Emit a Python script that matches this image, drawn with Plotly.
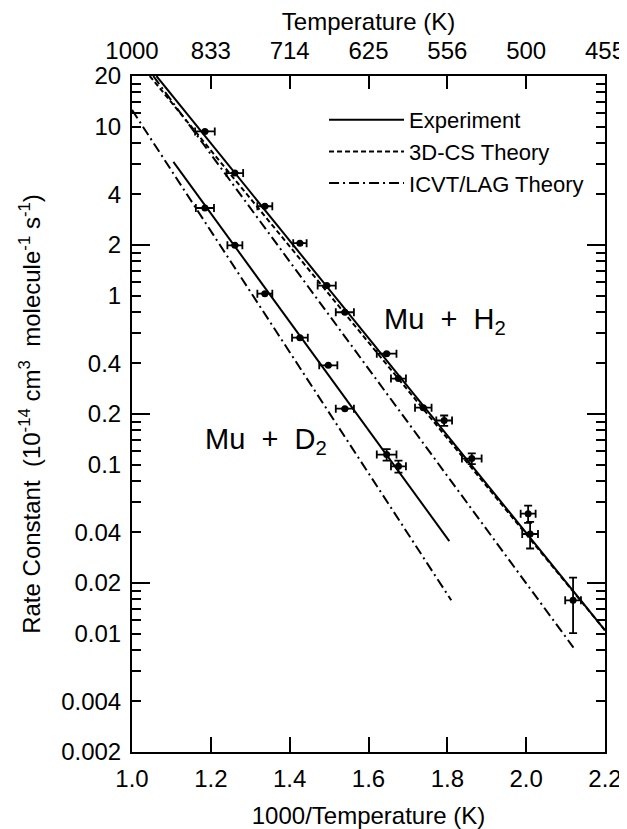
import math
import plotly.graph_objects as go

# ---------------- data ----------------
# Mu + H2 measured rate constants (10^-14 cm3 molecule-1 s-1) vs 1000/T
h2_x = [1.185, 1.261, 1.337, 1.426, 1.494, 1.540, 1.646, 1.676, 1.739, 1.792, 1.862, 2.005, 2.010, 2.119]
h2_k = [9.4, 5.33, 3.39, 2.05, 1.15, 0.80, 0.455, 0.324, 0.218, 0.183, 0.109, 0.0514, 0.039, 0.0158]
h2_xerr = [0.025, 0.021, 0.019, 0.017, 0.023, 0.023, 0.025, 0.019, 0.021, 0.020, 0.025, 0.019, 0.020, 0.020]
h2_kerr = [0, 0, 0, 0, 0, 0, 0, 0, 0, 0.013, 0.008, 0.006, 0.007, 0.0057]

# Mu + D2 measured rate constants
d2_x = [1.185, 1.261, 1.337, 1.426, 1.498, 1.540, 1.646, 1.676]
d2_k = [3.31, 1.99, 1.03, 0.566, 0.388, 0.215, 0.115, 0.098]
d2_xerr = [0.023, 0.019, 0.019, 0.020, 0.023, 0.023, 0.025, 0.019]
d2_kerr = [0, 0, 0, 0, 0, 0, 0.009, 0.008]

# fitted / theoretical lines (end points)
h2_exp_x = [1.062, 2.2]
h2_exp_k = [20.0, 0.0105]
h2_cs_x = [1.045, 2.2]
h2_cs_k = [20.0, 0.0105]
h2_icvt_x = [1.054, 2.12]
h2_icvt_k = [20.0, 0.0083]
d2_exp_x = [1.105, 1.805]
d2_exp_k = [6.2, 0.0354]
d2_icvt_x = [1.0, 1.81]
d2_icvt_k = [12.6, 0.0158]

# axis ticks
x_ticks = [1.0, 1.2, 1.4, 1.6, 1.8, 2.0, 2.2]
x_ticktext = ["1.0", "1.2", "1.4", "1.6", "1.8", "2.0", "2.2"]
t_ticktext = ["1000", "833", "714", "625", "556", "500", "455"]
y_ticks = [20, 10, 4, 2, 1, 0.4, 0.2, 0.1, 0.04, 0.02, 0.01, 0.004, 0.002]
y_ticktext = ["20", "10", "4", "2", "1", "0.4", "0.2", "0.1", "0.04", "0.02", "0.01", "0.004", "0.002"]
y_bases = [0.002, 0.02, 0.2, 2, 20]

# minor (unlabelled) ticks: k * base, k = 2..9
minor_vals = []
for b in y_bases[:-1]:
    for k in range(2, 10):
        v = round(k * b, 6)
        if all(abs(v - t) > 1e-9 for t in y_ticks):
            minor_vals.append(v)

FONT = "Liberation Sans"
BLACK = "black"
FS = 24

fig = go.Figure()

DASHDOT = "10px,4px,2px,4px"
line_specs = [
    (h2_exp_x, h2_exp_k, "solid", "Experiment", True),
    (h2_cs_x, h2_cs_k, "5px,3px", "3D-CS Theory", True),
    (h2_icvt_x, h2_icvt_k, DASHDOT, "ICVT/LAG Theory", True),
    (d2_exp_x, d2_exp_k, "solid", "Experiment", False),
    (d2_icvt_x, d2_icvt_k, DASHDOT, "ICVT/LAG Theory", False),
]
for xs, ks, dash, name, show in line_specs:
    fig.add_trace(go.Scatter(
        x=xs, y=ks, mode="lines", name=name, showlegend=show,
        legendgroup=name, line=dict(color=BLACK, width=2, dash=dash),
        hoverinfo="skip"))

for xs, ks, xe, ke in [(h2_x, h2_k, h2_xerr, h2_kerr), (d2_x, d2_k, d2_xerr, d2_kerr)]:
    fig.add_trace(go.Scatter(
        x=xs, y=ks, mode="markers", showlegend=False,
        marker=dict(color=BLACK, size=7),
        error_x=dict(type="data", array=xe, color=BLACK, thickness=1.8, width=4),
        error_y=dict(type="data", array=ke, color=BLACK, thickness=1.8, width=4),
        hoverinfo="skip"))

# invisible helpers so the overlay axes are drawn
fig.add_trace(go.Scatter(x=[1.0, 2.2], y=[1, 1], xaxis="x2", yaxis="y", mode="markers",
                         marker=dict(opacity=0), showlegend=False, hoverinfo="skip"))
fig.add_trace(go.Scatter(x=[1.0, 2.2], y=[1, 1], xaxis="x", yaxis="y3", mode="markers",
                         marker=dict(opacity=0), showlegend=False, hoverinfo="skip"))

fig.add_annotation(x=1.794, y=-0.15, xref="x", yref="y",
                   text="Mu  +  H<sub>2</sub>", showarrow=False,
                   font=dict(family=FONT, size=29, color=BLACK))
fig.add_annotation(x=1.34, y=-0.86, xref="x", yref="y",
                   text="Mu  +  D<sub>2</sub>", showarrow=False,
                   font=dict(family=FONT, size=29, color=BLACK))

yr = [math.log10(0.002), math.log10(20)]
# the page body adds an 8 px offset, so the figure is drawn 8 px smaller than the window
fig.update_layout(
    width=619, height=821,
    margin=dict(l=124, r=22, t=68, b=77),
    paper_bgcolor="white", plot_bgcolor="white",
    font=dict(family=FONT, size=FS, color=BLACK),
    showlegend=True,
    legend=dict(x=0.406, y=0.966, xanchor="left", yanchor="top",
                bgcolor="rgba(0,0,0,0)", borderwidth=0,
                font=dict(family=FONT, size=22, color=BLACK),
                itemwidth=75, tracegroupgap=0),
    xaxis=dict(range=[1.0, 2.2], tickmode="array", tickvals=x_ticks, ticktext=x_ticktext,
               ticks="inside", ticklen=15, tickwidth=2, tickcolor=BLACK,
               showline=True, linewidth=2, linecolor=BLACK, mirror=True,
               showgrid=False, zeroline=False, automargin=False, ticklabelstandoff=4,
               ticklabeloverflow="allow",
               tickfont=dict(family=FONT, size=FS),
               title=dict(text="1000/Temperature (K)", standoff=26,
                          font=dict(family=FONT, size=FS))),
    xaxis2=dict(range=[1.0, 2.2], overlaying="x", side="top", anchor="y",
                tickmode="array", tickvals=x_ticks, ticktext=t_ticktext,
                ticks="inside", ticklen=13, tickwidth=2, tickcolor=BLACK,
                showline=False, showgrid=False, zeroline=False, automargin=False,
                ticklabelstandoff=11, ticklabeloverflow="allow",
                tickfont=dict(family=FONT, size=FS),
                title=dict(text="Temperature (K)", standoff=3,
                           font=dict(family=FONT, size=FS))),
    yaxis=dict(type="log", range=yr, tickmode="array", tickvals=y_ticks, ticktext=y_ticktext,
               ticks="inside", ticklen=9, tickwidth=2, tickcolor=BLACK,
               showline=True, linewidth=2, linecolor=BLACK, mirror="ticks",
               showgrid=False, zeroline=False, automargin=False, ticklabelstandoff=4,
               tickfont=dict(family=FONT, size=FS),
               minor=dict(tickmode="array", tickvals=minor_vals, ticks="inside",
                          ticklen=9, tickwidth=2, tickcolor=BLACK, showgrid=False),
               title=dict(text="Rate Constant  (10<sup>-14</sup> cm<sup>3</sup>  molecule<sup>-1</sup> s<sup>-1</sup>)",
                          standoff=14, font=dict(family=FONT, size=FS))),
    yaxis3=dict(type="log", range=yr, overlaying="y", anchor="x", side="left",
                tickmode="array", tickvals=y_bases, ticks="inside", ticklen=18,
                tickwidth=2, tickcolor=BLACK, showticklabels=False, mirror="ticks",
                showline=False, showgrid=False, zeroline=False, automargin=False),
)

fig.write_html("out.html")
